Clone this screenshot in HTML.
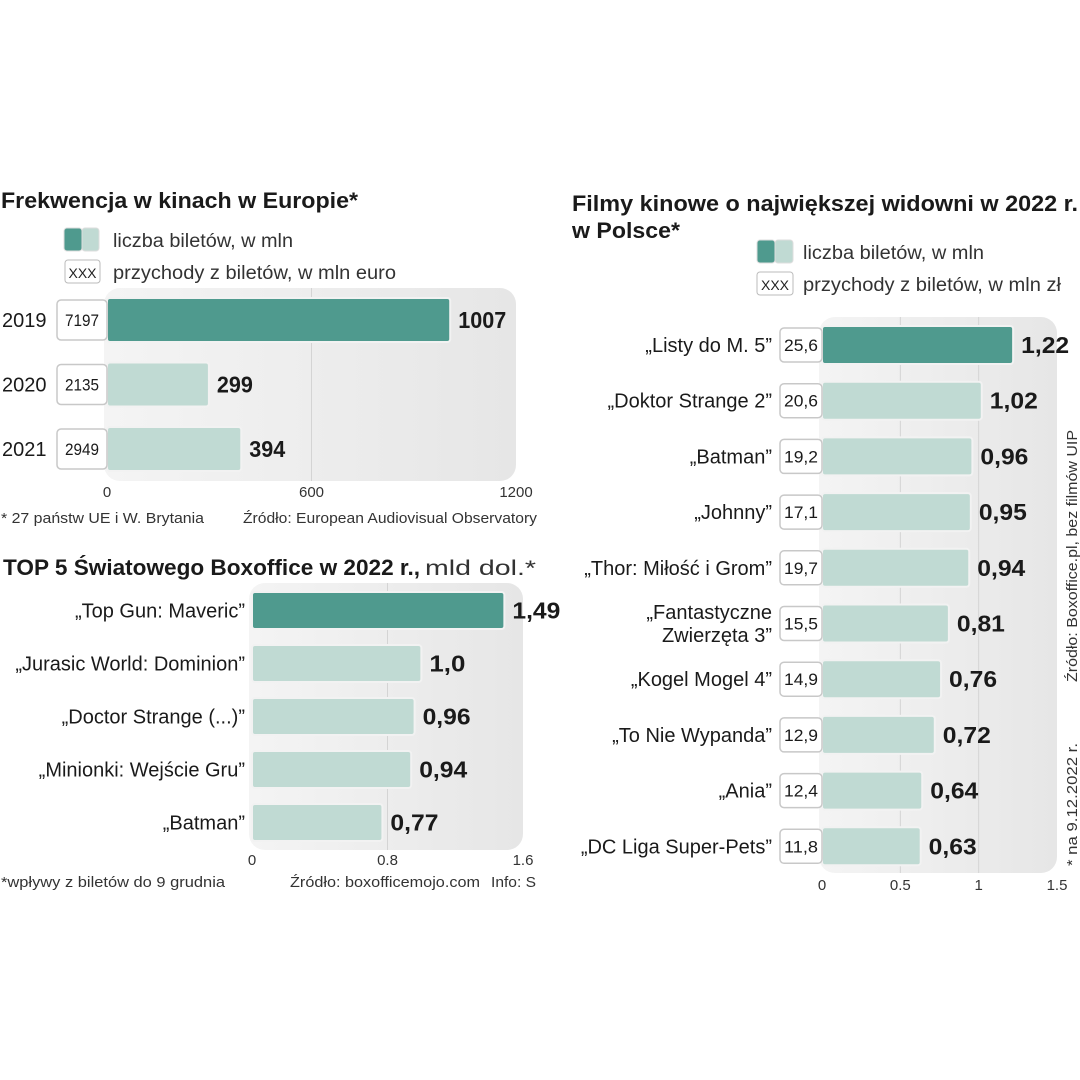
<!DOCTYPE html>
<html><head><meta charset="utf-8"><style>
html,body{margin:0;padding:0;background:#fff;}
svg{display:block;font-family:"Liberation Sans",sans-serif;}
</style></head><body>
<svg id="s" width="1080" height="1080" viewBox="0 0 1080 1080" xmlns="http://www.w3.org/2000/svg">
<defs>
<linearGradient id="pg" x1="0" x2="1" y1="0" y2="0"><stop offset="0" stop-color="#f4f4f4"/><stop offset="1" stop-color="#e6e6e6"/></linearGradient>
</defs>
<!-- Chart 1 -->
<text x="1" y="208" font-size="22" font-weight="bold" fill="#1a1a1a" textLength="357" lengthAdjust="spacingAndGlyphs">Frekwencja w kinach w Europie*</text>
<g>
<rect x="64" y="228" width="18" height="23" rx="3" fill="#4f9a8e" stroke="#ddd"/>
<rect x="82" y="228" width="17" height="23" rx="3" fill="#c0dad3" stroke="#ddd"/>
<text x="113" y="247" font-size="19" fill="#333" textLength="180" lengthAdjust="spacingAndGlyphs">liczba biletów, w mln</text>
<rect x="65" y="260" width="35" height="23" rx="3" fill="#fff" stroke="#bbb"/>
<text x="82.5" y="278" font-size="14" fill="#222" text-anchor="middle">XXX</text>
<text x="113" y="279" font-size="19" fill="#333" textLength="283" lengthAdjust="spacingAndGlyphs">przychody z biletów, w mln euro</text>
</g>
<g id="c1"></g>
<text x="1" y="523" font-size="15" fill="#333" textLength="203" lengthAdjust="spacingAndGlyphs">* 27 państw UE i W. Brytania</text>
<text x="537" y="523" font-size="15" fill="#333" text-anchor="end" textLength="294" lengthAdjust="spacingAndGlyphs">Źródło: European Audiovisual Observatory</text>

<!-- Chart 2 -->
<text x="3" y="575" font-size="22" font-weight="bold" fill="#1a1a1a" textLength="417" lengthAdjust="spacingAndGlyphs">TOP 5 Światowego Boxoffice w 2022 r.,</text>
<text x="425" y="575" font-size="21" fill="#333" textLength="111" lengthAdjust="spacingAndGlyphs">mld dol.*</text>
<g id="c2"></g>
<text x="1" y="887" font-size="15" fill="#333" textLength="224" lengthAdjust="spacingAndGlyphs">*wpływy z biletów do 9 grudnia</text>
<text x="290" y="887" font-size="15" fill="#333" textLength="190" lengthAdjust="spacingAndGlyphs">Źródło: boxofficemojo.com</text>
<text x="491" y="887" font-size="15" fill="#333" textLength="45" lengthAdjust="spacingAndGlyphs">Info: S</text>

<!-- Chart 3 -->
<text x="572" y="211" font-size="22" font-weight="bold" fill="#1a1a1a" textLength="506" lengthAdjust="spacingAndGlyphs">Filmy kinowe o największej widowni w 2022 r.</text>
<text x="572" y="238" font-size="22" font-weight="bold" fill="#1a1a1a" textLength="108" lengthAdjust="spacingAndGlyphs">w Polsce*</text>
<g>
<rect x="757" y="240" width="18" height="23" rx="3" fill="#4f9a8e" stroke="#ddd"/>
<rect x="775" y="240" width="18" height="23" rx="3" fill="#c0dad3" stroke="#ddd"/>
<text x="803" y="259" font-size="19" fill="#333" textLength="181" lengthAdjust="spacingAndGlyphs">liczba biletów, w mln</text>
<rect x="757" y="272" width="36" height="23" rx="3" fill="#fff" stroke="#bbb"/>
<text x="775" y="290" font-size="14" fill="#222" text-anchor="middle">XXX</text>
<text x="803" y="291" font-size="19" fill="#333" textLength="258" lengthAdjust="spacingAndGlyphs">przychody z biletów, w mln zł</text>
</g>
<g id="c3"></g>
<text transform="translate(1077,682) rotate(-90)" font-size="15" fill="#333" textLength="252" lengthAdjust="spacingAndGlyphs">Źródło: Boxoffice.pl, bez filmów UIP</text>
<text transform="translate(1077,866) rotate(-90)" font-size="15" fill="#333" textLength="123" lengthAdjust="spacingAndGlyphs">* na 9.12.2022 r.</text>
</svg>
<script>
const c1Cats=["2019","2020","2021"];
const c1Tickets=[1007,299,394];
const c1Revenue=["7197","2135","2949"];
const c1Labels=["1007","299","394"];
const c1Ticks=[0,600,1200];

const c2Cats=["„Top Gun: Maveric”","„Jurasic World: Dominion”","„Doctor Strange (...)”","„Minionki: Wejście Gru”","„Batman”"];
const c2Values=[1.49,1.0,0.96,0.94,0.77];
const c2Labels=["1,49","1,0","0,96","0,94","0,77"];
const c2Ticks=[0,0.8,1.6];

const c3Cats=[["„Listy do M. 5”"],["„Doktor Strange 2”"],["„Batman”"],["„Johnny”"],["„Thor: Miłość i Grom”"],["„Fantastyczne","Zwierzęta 3”"],["„Kogel Mogel 4”"],["„To Nie Wypanda”"],["„Ania”"],["„DC Liga Super-Pets”"]];
const c3Values=[1.22,1.02,0.96,0.95,0.94,0.81,0.76,0.72,0.64,0.63];
const c3Revenue=["25,6","20,6","19,2","17,1","19,7","15,5","14,9","12,9","12,4","11,8"];
const c3Labels=["1,22","1,02","0,96","0,95","0,94","0,81","0,76","0,72","0,64","0,63"];
const c3Ticks=[0,0.5,1,1.5];

const NS="http://www.w3.org/2000/svg";
function mk(parent,tag,attrs,txt){const e=document.createElementNS(NS,tag);for(const k in attrs)e.setAttribute(k,attrs[k]);if(txt!==undefined)e.textContent=txt;parent.appendChild(e);return e;}

function draw(cfg){
  const g=document.getElementById(cfg.id);
  const max=cfg.ticks[cfg.ticks.length-1];
  const xs=v=>cfg.x0+(cfg.x1-cfg.x0)*v/max;
  const ys=i=>cfg.y0+i*cfg.step;
  let el=mk(g,"rect",{x:cfg.x0-3,y:cfg.py0,width:cfg.x1-cfg.x0+3,height:cfg.py1-cfg.py0,rx:16,fill:"url(#pg)"});
  
  
  cfg.ticks.forEach((t,i)=>{
    if(i>0&&i<cfg.ticks.length-1){
      el=mk(g,"line",{x1:xs(t),x2:xs(t),y1:cfg.py0,y2:cfg.py1,stroke:"#d4d4d4","stroke-width":1});
      
      
    }
    el=mk(g,"text",{x:xs(t),y:cfg.tickY,"font-size":15,fill:"#333","text-anchor":"middle"},cfg.tickFmt(t));
    
    
  });
  cfg.values.forEach((v,i)=>{
    const y=ys(i);
    el=mk(g,"rect",{x:cfg.x0,y:y,width:xs(v)-cfg.x0,height:cfg.bh,rx:3,fill:i===0?"#4f9a8e":"#c0dad3",stroke:"#f2f2f2","stroke-width":2});
    
    
    el=mk(g,"text",{x:xs(v)+8,y:y+cfg.bh/2+8,"font-size":23,"font-weight":"bold",fill:"#1a1a1a",textLength:cfg.labels[i].length*12,lengthAdjust:"spacingAndGlyphs"},cfg.labels[i]);
    
    
    if(cfg.rev){
      el=mk(g,"rect",{x:cfg.bx,y:y+2,width:cfg.x0-cfg.bx,height:cfg.bh-4,rx:4,fill:"#fff",stroke:"#c8c8c8","stroke-width":1.5});
      
      
      el=mk(g,"text",{x:(cfg.bx+cfg.x0)/2,y:y+cfg.bh/2+6,"font-size":17,fill:"#1a1a1a","text-anchor":"middle",textLength:cfg.rev[i].length*8.5,lengthAdjust:"spacingAndGlyphs"},cfg.rev[i]);
      
      
    }
    const lines=Array.isArray(cfg.cats[i])?cfg.cats[i]:[cfg.cats[i]];
    lines.forEach((ln,k)=>{
      const off=(k-(lines.length-1)/2)*23;
      el=mk(g,"text",{x:cfg.lx,y:y+cfg.bh/2+7+off,"font-size":20,fill:"#1a1a1a","text-anchor":cfg.anchor},ln);
      
      
    });
  });
}
draw({id:"c1",x0:107,x1:516,py0:288,py1:481,y0:298,step:64.5,bh:44,ticks:c1Ticks,tickY:497,tickFmt:t=>String(t),values:c1Tickets,labels:c1Labels,rev:c1Revenue,bx:57,cats:c1Cats,lx:2,anchor:"start"});
draw({id:"c2",x0:252,x1:523,py0:583,py1:850,y0:592,step:53,bh:37,ticks:c2Ticks,tickY:865,tickFmt:t=>String(t),values:c2Values,labels:c2Labels,rev:null,cats:c2Cats,lx:245,anchor:"end"});
draw({id:"c3",x0:822,x1:1057,py0:317,py1:873,y0:326,step:55.7,bh:38,ticks:c3Ticks,tickY:890,tickFmt:t=>String(t),values:c3Values,labels:c3Labels,rev:c3Revenue,bx:780,cats:c3Cats,lx:772,anchor:"end"});
</script>
</body></html>
